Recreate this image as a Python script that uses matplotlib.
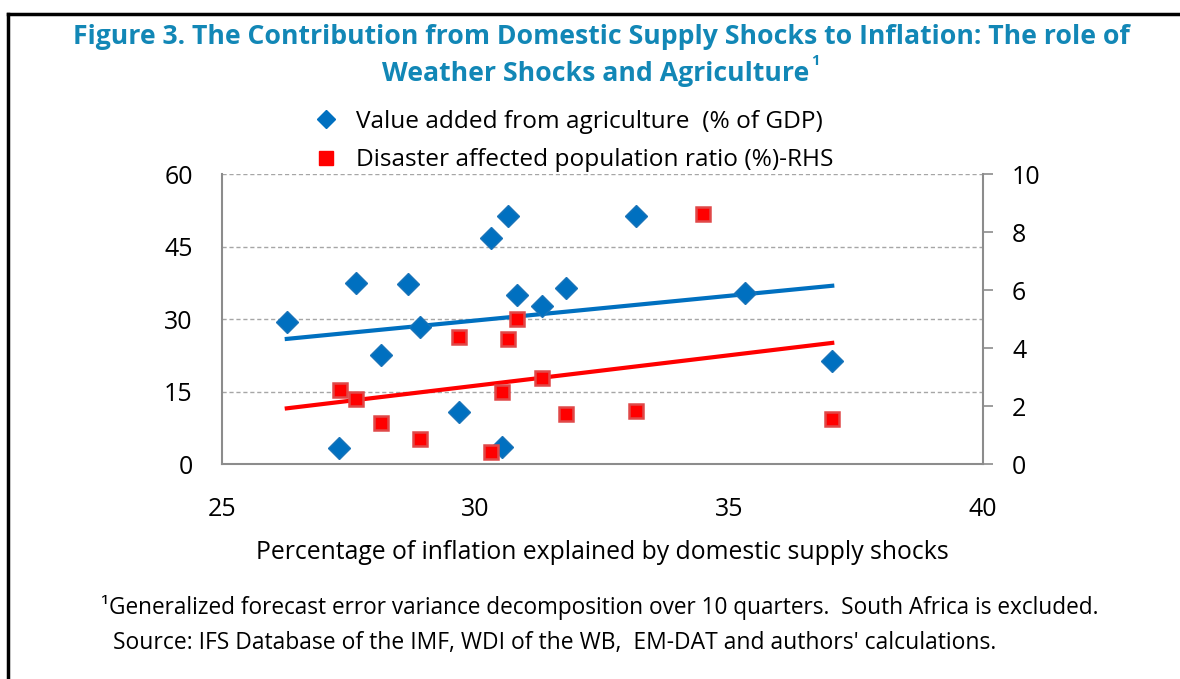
import numpy as np
import matplotlib
matplotlib.use('Agg')
import matplotlib.pyplot as plt
from matplotlib.lines import Line2D

plt.rcParams['font.family'] = ['Open Sans', 'DejaVu Sans']

# value added from agriculture (% of GDP), left axis
agri_x = [26.28, 27.31, 27.65, 28.13, 28.67, 28.90, 29.67, 30.30,
          30.53, 30.64, 30.81, 31.30, 31.79, 33.17, 35.32, 37.03]
agri_y = [29.4, 3.25, 37.5, 22.55, 37.2, 28.4, 10.8, 46.7,
          3.45, 51.3, 35.0, 32.7, 36.5, 51.3, 35.4, 21.3]

# disaster affected population ratio (%), right axis
dis_x = [27.33, 27.65, 28.13, 28.90, 29.67, 30.30, 30.53,
         30.64, 30.81, 31.30, 31.79, 33.17, 34.49, 37.03]
dis_y = [2.55, 2.23, 1.40, 0.86, 4.39, 0.40, 2.47,
         4.30, 5.00, 2.98, 1.71, 1.84, 8.61, 1.54]

left_ticks = [0, 15, 30, 45, 60]
right_ticks = [0, 2, 4, 6, 8, 10]
x_ticks = [25, 30, 35, 40]

BLUE = '#0070C0'
RED = '#FF0000'
TITLE_COL = '#1287B6'
SPINE = '#8C8C8C'


def trend(x, y, xs):
    k, b = np.polyfit(x, y, 1)
    return k * xs + b


fig = plt.figure(figsize=(11.8, 6.79), dpi=100)
ax = fig.add_axes([0.188, 0.3166, 0.645, 0.4271])
ax2 = ax.twinx()

xs = np.array([min(agri_x + dis_x), max(agri_x + dis_x)])

ax.plot(xs, trend(agri_x, agri_y, xs), color=BLUE, lw=3, zorder=2)
ax.plot(agri_x, agri_y, ls='none', marker='D', ms=11.5, color=BLUE,
        mec='#1A74B8', zorder=3)
ax2.plot(xs, trend(dis_x, dis_y, xs), color=RED, lw=3, zorder=2)
ax2.plot(dis_x, dis_y, ls='none', marker='s', ms=10.5, color=RED,
         mec='#E04848', mew=1.8, zorder=3)

ax.set_xlim(25, 40)
ax.set_ylim(0, 60)
ax2.set_ylim(0, 10)
ax.set_xticks(x_ticks)
ax.set_yticks(left_ticks)
ax2.set_yticks(right_ticks)

ax.yaxis.grid(True, color='#A6A6A6', ls=(0, (3, 2)), lw=1)
ax.set_axisbelow(True)

for a in (ax, ax2):
    a.spines['top'].set_visible(False)
ax.spines['right'].set_visible(False)
ax2.spines['left'].set_visible(False)
ax2.spines['bottom'].set_visible(False)
for sp in (ax.spines['left'], ax.spines['bottom'], ax2.spines['right']):
    sp.set_color(SPINE)
    sp.set_linewidth(1.5)

ax.tick_params(axis='y', length=0, pad=21, labelsize=18)
ax.tick_params(axis='x', length=0, pad=24, labelsize=18)
ax2.tick_params(axis='y', length=7, width=1.2, color=SPINE, pad=14, labelsize=18)

ax.set_xlabel('Percentage of inflation explained by domestic supply shocks',
              fontsize=17.8, labelpad=13)

handles = [
    Line2D([], [], ls='none', marker='D', ms=9.5, color=BLUE),
    Line2D([], [], ls='none', marker='s', ms=10, color=RED),
]
fig.legend(handles, ['Value added from agriculture  (% of GDP)',
                     'Disaster affected population ratio (%)-RHS'],
           loc='upper left', bbox_to_anchor=(0.257, 0.853), frameon=False,
           fontsize=17.6, handletextpad=0.65, labelspacing=0.6,
           borderaxespad=0, handlelength=1.1)

fig.text(0.51, 0.945, 'Figure 3. The Contribution from Domestic Supply Shocks to Inflation: The role of',
         ha='center', va='center', fontsize=19.2, fontweight='bold', color=TITLE_COL)
t2 = fig.text(0.505, 0.891, 'Weather Shocks and Agriculture',
              ha='center', va='center', fontsize=19.2, fontweight='bold', color=TITLE_COL)
fig.canvas.draw()
bb = t2.get_window_extent().transformed(fig.transFigure.inverted())
fig.text(bb.x1 + 0.001, 0.91, '1', ha='left', va='center', fontsize=10.5,
         fontweight='bold', color=TITLE_COL)

fig.text(0.086, 0.106, '\u00b9Generalized forecast error variance decomposition over 10 quarters.  South Africa is excluded.',
         ha='left', va='center', fontsize=16.3)
fig.text(0.096, 0.053, "Source: IFS Database of the IMF, WDI of the WB,  EM-DAT and authors' calculations.",
         ha='left', va='center', fontsize=16.5)

# frame around the figure
fig.add_artist(Line2D([0.0068, 1.0], [0.979, 0.979], color='black', lw=2.5,
                      transform=fig.transFigure))
fig.add_artist(Line2D([0.0068, 0.0068], [0.0, 0.979], color='black', lw=2.5,
                      transform=fig.transFigure))

fig.savefig('out.png', dpi=100)
